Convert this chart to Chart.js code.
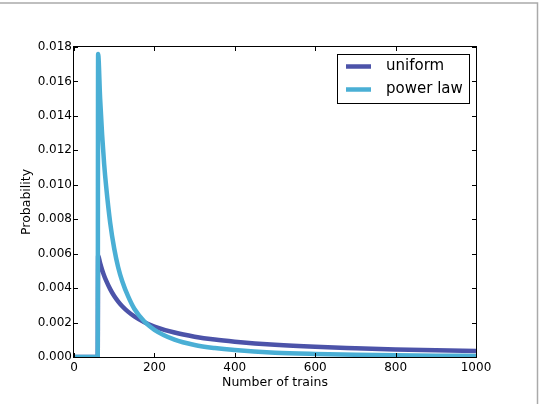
<!DOCTYPE html>
<html>
<head>
<meta charset="utf-8">
<script src="https://cdn.jsdelivr.net/npm/chart.js@4"></script>
<style>
html,body{margin:0;padding:0;background:#fff;}
#wrap{position:relative;width:540px;height:404px;}
</style>
</head>
<body>
<div id="wrap"><canvas id="c" width="540" height="404"></canvas></div>
<script>
const trains = [0, 59, 60, 65, 70, 75, 80, 90, 100, 110, 120, 135, 150, 175, 200, 250, 300, 350, 400, 500, 600, 700, 800, 900, 1000];
const uniformPost = [0, 0, 0.00590, 0.00545, 0.00506, 0.00472, 0.00443, 0.00394, 0.00354, 0.00322, 0.00295, 0.00262, 0.00236, 0.00202, 0.00177, 0.00142, 0.00118, 0.00101, 0.00089, 0.00071, 0.00059, 0.00051, 0.00044, 0.00039, 0.00035];
const powerLawPost = [0, 0, 0.0176, 0.0150, 0.0129, 0.0112, 0.0099, 0.0078, 0.0063, 0.0052, 0.0044, 0.0035, 0.0028, 0.00206, 0.00158, 0.00101, 0.00070, 0.00052, 0.00040, 0.00025, 0.000176, 0.00013, 0.000099, 0.000078, 0.000063];
const seriesNames = ['uniform', 'power law'];
const xTickValues = [0, 200, 400, 600, 800, 1000];
const yTickValues = [0, 0.002, 0.004, 0.006, 0.008, 0.010, 0.012, 0.014, 0.016, 0.018];

const colors = ['#4c53a9', '#4aafd5'];
const FONT = 'DejaVu Sans';

const framePlugin = {
  id: 'frame',
  afterDatasetsDraw(chart) {
    const ctx = chart.ctx, a = chart.chartArea;
    const xs = chart.scales.x, ys = chart.scales.y;
    ctx.save();
    ctx.strokeStyle = '#000';
    ctx.lineWidth = 1;
    ctx.strokeRect(Math.round(a.left) - 0.5, Math.round(a.top) - 0.5, Math.round(a.right - a.left) + 1, Math.round(a.bottom - a.top) + 1);
    const tl = 4;
    ctx.beginPath();
    xTickValues.forEach(v => {
      const px = Math.round(xs.getPixelForValue(v)) + 0.5;
      ctx.moveTo(px, a.bottom); ctx.lineTo(px, a.bottom - tl);
      ctx.moveTo(px, a.top); ctx.lineTo(px, a.top + tl);
    });
    yTickValues.forEach(v => {
      const py = Math.round(ys.getPixelForValue(v)) + 0.5;
      ctx.moveTo(a.left, py); ctx.lineTo(a.left + tl, py);
      ctx.moveTo(a.right, py); ctx.lineTo(a.right - tl, py);
    });
    ctx.stroke();

    // legend
    const lx = 337.5, ly = 54.5, lw = 132, lh = 49;
    ctx.fillStyle = '#fff';
    ctx.fillRect(lx, ly, lw, lh);
    ctx.strokeStyle = '#000';
    ctx.lineWidth = 1;
    ctx.strokeRect(lx, ly, lw, lh);
    const rows = [66.5, 89.5];
    chart.data.datasets.forEach((ds, i) => {
      ctx.strokeStyle = ds.borderColor;
      ctx.lineWidth = 4.5;
      ctx.beginPath();
      ctx.moveTo(346, rows[i]); ctx.lineTo(371, rows[i]);
      ctx.stroke();
      ctx.fillStyle = '#000';
      ctx.font = '15px "' + FONT + '"';
      ctx.textBaseline = 'middle';
      ctx.textAlign = 'left';
      ctx.fillText(ds.label, 386, rows[i]);
    });

    // outer figure border (top and right)
    ctx.strokeStyle = '#aaaaaa';
    ctx.lineWidth = 1.5;
    ctx.beginPath();
    ctx.moveTo(0, 3); ctx.lineTo(537.5, 3); ctx.lineTo(537.5, 404);
    ctx.stroke();
    ctx.restore();
  }
};

const mk = (ys) => trains.map((x, i) => ({x: x, y: ys[i]}));

new Chart(document.getElementById('c'), {
  type: 'line',
  data: {
    datasets: [
      {label: seriesNames[0], data: mk(uniformPost), borderColor: colors[0], backgroundColor: colors[0], borderWidth: 4.5, pointRadius: 0, cubicInterpolationMode: 'monotone', order: 1},
      {label: seriesNames[1], data: mk(powerLawPost), borderColor: colors[1], backgroundColor: colors[1], borderWidth: 4.5, pointRadius: 0, cubicInterpolationMode: 'monotone', order: 0}
    ]
  },
  options: {
    responsive: false,
    animation: false,
    devicePixelRatio: 1,
    layout: {padding: {left: 0, top: 47, right: 64, bottom: 0}},
    plugins: {legend: {display: false}, tooltip: {enabled: false}},
    scales: {
      x: {
        type: 'linear', min: 0, max: 1000,
        afterBuildTicks: s => { s.ticks = xTickValues.map(v => ({value: v})); },
        afterFit: s => { s.height = 47; },
        grid: {display: false, drawTicks: false}, border: {display: false},
        ticks: {color: '#000', font: {family: FONT, size: 12}, padding: 4, maxRotation: 0, callback: v => String(v)},
        title: {display: true, text: 'Number of trains', color: '#000', font: {family: FONT, size: 12.5}, padding: {top: 0, bottom: 14}}
      },
      y: {
        type: 'linear', min: 0, max: 0.018,
        afterBuildTicks: s => { s.ticks = yTickValues.map(v => ({value: v})); },
        afterFit: s => { s.width = 74; },
        grid: {display: false, drawTicks: false}, border: {display: false},
        ticks: {color: '#000', font: {family: FONT, size: 12}, padding: 2, callback: v => v.toFixed(3)},
        title: {display: true, text: 'Probability', color: '#000', font: {family: FONT, size: 12.5}, padding: {top: 19, bottom: 0}}
      }
    }
  },
  plugins: [framePlugin]
});
</script>
</body>
</html>
